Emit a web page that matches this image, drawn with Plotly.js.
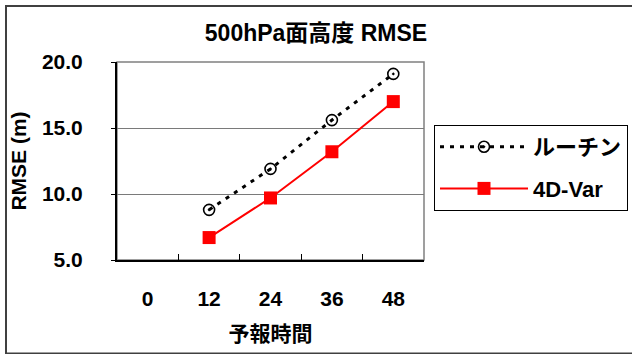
<!DOCTYPE html>
<html>
<head>
<meta charset="utf-8">
<script src="https://cdn.plot.ly/plotly-3.0.1.min.js"></script>
<style>
  html, body { margin: 0; padding: 0; background: #ffffff; }
  #chart { width: 632px; height: 354px; }
</style>
</head>
<body>
<div id="chart"></div>
<script>
// ---- data ----
const categories = ['0', '12', '24', '36', '48'];
const routineRMSE = [null, 8.8, 11.9, 15.6, 19.1];
const var4dRMSE   = [null, 6.7, 9.7, 13.2, 17.0];
const seriesNames = ['ルーチン', '4D-Var'];
const yTicks = [5, 10, 15, 20];
const chartTitle = '500hPa面高度 RMSE';
const xTitle = '予報時間';
const yTitle = 'RMSE (m)';

// ---- layout geometry (pixels) ----
const W = 632, H = 354;
const L = 117, R = 424, T = 62, B = 260;
const pw = R - L, ph = B - T;
const px = v => (v - L) / pw;
const py = v => (B - v) / ph;

const FONT = 'Liberation Sans, Noto Sans CJK JP, sans-serif';

const traces = [
  {
    x: categories, y: routineRMSE, name: seriesNames[0],
    type: 'scatter', mode: 'lines+markers', legendgroup: 'a',
    line: { color: '#000000', width: 3, dash: '4px,6px' },
    marker: { symbol: 'circle-open-dot', size: 11, color: '#000000', line: { color: '#000000', width: 1.6 } },
    connectgaps: false
  },
  {
    x: categories, y: var4dRMSE, name: seriesNames[1],
    type: 'scatter', mode: 'lines+markers', legendgroup: 'b',
    line: { color: '#ff0000', width: 2 },
    marker: { symbol: 'square', size: 13, color: '#ff0000' },
    connectgaps: false
  }
];

const layout = {
  width: W, height: H,
  margin: { l: L, r: W - R, t: T, b: H - B, pad: 0, autoexpand: false },
  paper_bgcolor: '#ffffff', plot_bgcolor: '#ffffff',
  font: { family: FONT, size: 21, color: '#000000', weight: 'bold' },
  title: {
    text: chartTitle, xref: 'container', yref: 'container',
    x: 0.5, xanchor: 'center', y: 1 - 33 / H, yanchor: 'middle',
    font: { family: FONT, size: 23, color: '#000000', weight: 'bold' }
  },
  xaxis: {
    type: 'category', categoryorder: 'array', categoryarray: categories,
    range: [-0.5, categories.length - 0.5],
    showline: true, linecolor: '#000000', linewidth: 2,
    ticks: 'inside', tickson: 'boundaries', ticklen: 6, tickcolor: '#000000', tickwidth: 1,
    showgrid: false, zeroline: false, fixedrange: true,
    ticklabelstandoff: 19,
    tickfont: { family: FONT, size: 21, color: '#000000', weight: 'bold' },
    title: { text: xTitle, standoff: 17, font: { family: FONT, size: 21, color: '#000000', weight: 'bold' } }
  },
  yaxis: {
    range: [5, 20], tickvals: yTicks, tickformat: '.1f',
    showline: true, linecolor: '#000000', linewidth: 2,
    ticks: 'outside', ticklen: 4, tickcolor: '#000000', tickwidth: 1,
    showgrid: true, gridcolor: '#7a7a7a', gridwidth: 1,
    zeroline: false, fixedrange: true,
    ticklabelstandoff: 24,
    tickfont: { family: FONT, size: 21, color: '#000000', weight: 'bold' },
    title: { text: yTitle, standoff: 10, font: { family: FONT, size: 21, color: '#000000', weight: 'bold' } }
  },
  legend: {
    xref: 'container', yref: 'container',
    x: 434 / W, y: 1 - 125 / H, xanchor: 'left', yanchor: 'top',
    bgcolor: '#ffffff', bordercolor: '#000000', borderwidth: 1,
    font: { family: FONT, size: 22, color: '#000000', weight: 'bold' },
    tracegroupgap: 10, itemwidth: 88,
    traceorder: 'grouped'
  },
  shapes: [
    { type: 'rect', xref: 'paper', yref: 'paper', x0: 0, x1: 1, y0: 0, y1: 1,
      line: { color: '#808080', width: 1.5 }, layer: 'below' },
    { type: 'rect', xref: 'paper', yref: 'paper',
      x0: px(6), x1: px(W + 10), y0: py(353.5), y1: py(6),
      line: { color: '#404040', width: 2 }, layer: 'above' }
  ]
};

Plotly.newPlot('chart', traces, layout, { staticPlot: true, displayModeBar: false });
</script>
</body>
</html>
